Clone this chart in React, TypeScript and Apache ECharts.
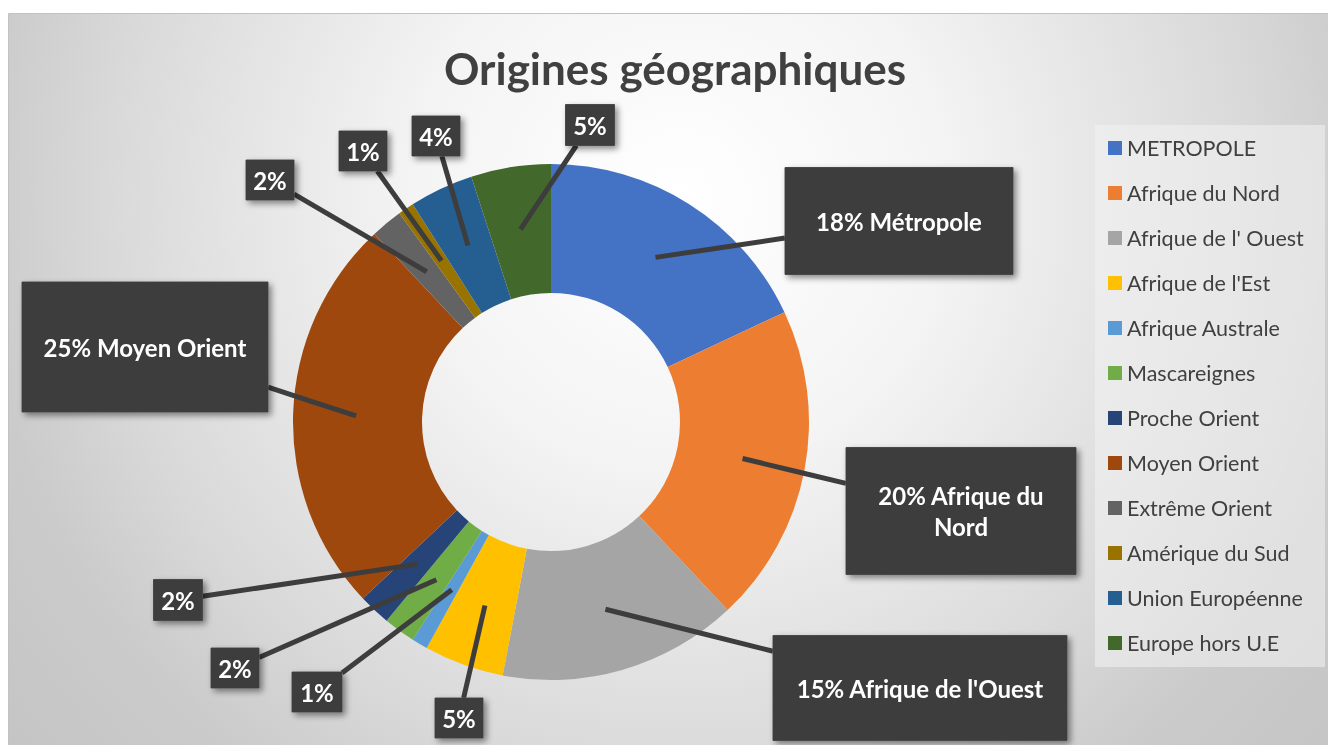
import React, { useEffect, useRef } from "react";
import * as echarts from "echarts";

const categories = [
  "METROPOLE",
  "Afrique du Nord",
  "Afrique de l' Ouest",
  "Afrique de l'Est",
  "Afrique Australe",
  "Mascareignes",
  "Proche Orient",
  "Moyen Orient",
  "Extrême Orient",
  "Amérique du Sud",
  "Union Européenne",
  "Europe hors U.E",
];
const values = [18, 20, 15, 5, 1, 2, 2, 25, 2, 1, 4, 5];
const labelNames = [
  "Métropole",
  "Afrique du\nNord",
  "Afrique de l'Ouest",
  "",
  "",
  "",
  "",
  "Moyen Orient",
  "",
  "",
  "",
  "",
];
const colors = [
  "#4472C4",
  "#ED7D31",
  "#A5A5A5",
  "#FFC000",
  "#5B9BD5",
  "#70AD47",
  "#264478",
  "#9E480E",
  "#636363",
  "#997300",
  "#255E91",
  "#43682B",
];
const titleText = "Origines géographiques";

// label box layout: [centerX, centerY, width, height]
const labelBoxes: number[][] = [
  [899, 221, 228, 107],
  [961, 511, 230, 127],
  [920, 688, 294, 105],
  [459, 718, 48, 40],
  [317, 692, 50, 40],
  [235, 668, 48, 40],
  [178, 600, 49, 41],
  [145, 347, 246, 130],
  [270, 180, 48, 40],
  [363, 151, 48, 40],
  [436, 136, 48, 40],
  [590, 125, 49, 41],
];

export default function App() {
  const ref = useRef<HTMLDivElement>(null);
  useEffect(() => {
    if (!ref.current) return;
    const chart = echarts.init(ref.current, undefined, { renderer: "svg" });
    const font = "Lato, 'Open Sans', sans-serif";
    const cx = 551;
    const cy = 422;

    const mainData = categories.map((name, i) => ({
      name,
      value: values[i],
      itemStyle: { color: colors[i] },
    }));
    const labelData = categories.map((name, i) => {
      const box = labelBoxes[i];
      const multi = labelNames[i].includes("\n");
      return {
        name,
        value: values[i],
        label: {
          width: box[2],
          lineHeight: multi ? 31 : box[3],
          padding: multi ? [(box[3] - 62) / 2, 0, (box[3] - 62) / 2, 0] : 0,
        },
      };
    });

    chart.setOption({
      animation: false,
      graphic: [
        {
          type: "rect",
          z: -10,
          shape: { x: 8.5, y: 13.5, width: 1330, height: 740 },
          style: {
            fill: new echarts.graphic.RadialGradient(
              680,
              200,
              880,
              [
                { offset: 0, color: "#ffffff" },
                { offset: 0.3, color: "#f4f4f4" },
                { offset: 0.65, color: "#d9d9d9" },
                { offset: 0.8, color: "#cbcbcb" },
                { offset: 1, color: "#c4c4c4" },
              ],
              true
            ),
            stroke: "#c2c2c2",
            lineWidth: 1,
          },
        },
        {
          type: "rect",
          z: -9,
          shape: { x: 1095, y: 125, width: 230, height: 542 },
          style: { fill: "rgba(242,242,242,0.55)" },
        },
        {
          type: "text",
          x: 675,
          y: 68,
          style: {
            text: titleText,
            font: `bold 44px ${font}`,
            fill: "#404040",
            align: "center",
            verticalAlign: "middle",
          },
        },
      ],
      legend: {
        orient: "vertical",
        left: 1108,
        top: 137,
        padding: 0,
        itemWidth: 14,
        itemHeight: 14,
        itemGap: 23,
        icon: "rect",
        selectedMode: false,
        textStyle: {
          fontFamily: font,
          fontSize: 21.5,
          lineHeight: 22,
          color: "#404040",
        },
        data: categories.map((n, i) => ({ name: n, itemStyle: { color: colors[i] } })),
      },
      series: [
        {
          type: "pie",
          center: [cx, cy],
          radius: [129, 258],
          startAngle: 90,
          clockwise: true,
          silent: true,
          label: { show: false },
          labelLine: { show: false },
          itemStyle: { borderWidth: 0 },
          data: mainData,
        },
        {
          type: "pie",
          center: [cx, cy],
          radius: [0, 195],
          startAngle: 90,
          clockwise: true,
          silent: true,
          z: 5,
          avoidLabelOverlap: false,
          itemStyle: { color: "rgba(0,0,0,0)", borderWidth: 0 },
          emphasis: { disabled: true },
          label: {
            show: true,
            position: "outside",
            color: "#ffffff",
            fontFamily: font,
            fontWeight: "bold",
            fontSize: 24,
            backgroundColor: "#3d3d3d",
            borderColor: "#555555",
            borderWidth: 0.5,
            shadowColor: "rgba(0,0,0,0.45)",
            shadowBlur: 6,
            shadowOffsetX: 3,
            shadowOffsetY: 3,
            formatter: (p: any) => {
              const n = labelNames[p.dataIndex];
              return `${Math.round(p.percent)}%` + (n ? " " + n : "");
            },
          },
          labelLine: {
            show: true,
            length: 10,
            length2: 10,
            smooth: false,
            lineStyle: { color: "#3d3d3d", width: 5 },
          },
          labelLayout: (params: any) => {
            const i = params.dataIndex;
            const [bx, by, w, h] = labelBoxes[i];
            const pts = params.labelLinePoints;
            const p0 = pts && pts[0] ? pts[0] : [bx, by];
            const dx = p0[0] - bx;
            const dy = p0[1] - by;
            const tx = Math.abs(dx) > 1e-6 ? w / 2 / Math.abs(dx) : Infinity;
            const ty = Math.abs(dy) > 1e-6 ? h / 2 / Math.abs(dy) : Infinity;
            const t = Math.min(tx, ty, 1);
            const end = [bx + dx * t, by + dy * t];
            const mid = [(p0[0] + end[0]) / 2, (p0[1] + end[1]) / 2];
            return {
              x: bx,
              y: by,
              align: "center",
              verticalAlign: "middle",
              labelLinePoints: [p0, mid, end],
            };
          },
          data: labelData,
        },
      ],
    });
    return () => chart.dispose();
  }, []);
  return (
    <div
      ref={ref}
      style={{ position: "fixed", left: 0, top: 0, width: 1328, height: 745 }}
    />
  );
}
